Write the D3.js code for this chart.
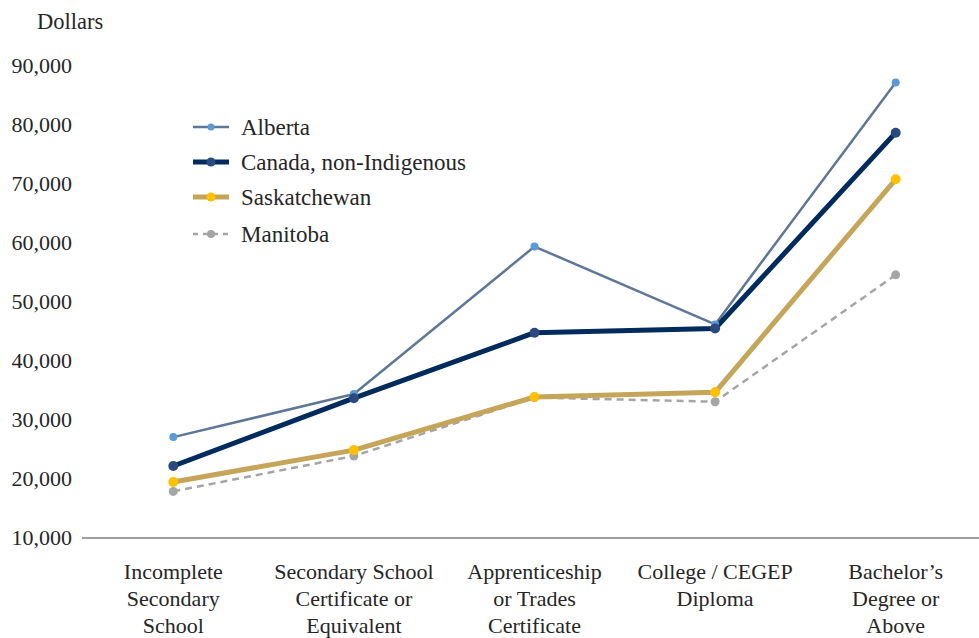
<!DOCTYPE html>
<html><head><meta charset="utf-8">
<script src="https://cdn.jsdelivr.net/npm/d3@7"></script>
<style>body{margin:0;background:#fff;}</style>
</head>
<body><svg id="c" width="979" height="638"></svg>
<script>
const categories = [
  ["Incomplete","Secondary","School"],
  ["Secondary School","Certificate or","Equivalent"],
  ["Apprenticeship","or Trades","Certificate"],
  ["College / CEGEP","Diploma"],
  ["Bachelor\u2019s","Degree or","Above"]
];
const alberta = [27100, 34400, 59400, 46200, 87200];
const canada = [22200, 33700, 44800, 45500, 78700];
const saskatchewan = [19500, 24900, 33900, 34700, 70800];
const manitoba = [17900, 23900, 33800, 33100, 54600];
const yTicks = [10000,20000,30000,40000,50000,60000,70000,80000,90000];
const seriesNames = ["Alberta","Canada, non-Indigenous","Saskatchewan","Manitoba"];

const FONT = '"Liberation Serif"';
const TXT = "#262626";

const series = [
  {name:seriesNames[0], values:alberta, line:"#5f7797", marker:"#5b9bd5", w:2.5, r:4, dash:null},
  {name:seriesNames[1], values:canada, line:"#002b5c", marker:"#2a4a7f", w:5, r:5, dash:null},
  {name:seriesNames[2], values:saskatchewan, line:"#c5a55a", marker:"#ffc000", w:5, r:5, dash:null},
  {name:seriesNames[3], values:manitoba, line:"#a5a5a5", marker:"#a5a5a5", w:2.5, r:4.5, dash:"7,5"}
];

const svg = d3.select("#c");
const x = d3.scaleBand().domain(d3.range(categories.length)).range([83, 986]);
const y = d3.scaleLinear().domain([10000, 90000]).range([538, 66]);

const yAxis = d3.axisLeft(y).tickValues(yTicks).tickSize(0).tickPadding(0)
  .tickFormat(d3.format(","));
const gy = svg.append("g").attr("transform","translate(72,0)").call(yAxis)
  .attr("font-family", null).attr("font-size", null);
gy.select(".domain").remove();
gy.selectAll("text").style("font-size","22px").style("fill",TXT)
  .style("font-family",FONT).attr("dy","0.3em");

svg.append("text").attr("x",37).attr("y",29).style("font-size","22.5px")
  .style("font-family",FONT).style("fill",TXT).text("Dollars");

svg.append("line").attr("x1",82).attr("x2",979).attr("y1",538).attr("y2",538)
  .attr("stroke","#7f7f7f").attr("stroke-width",1.5);

const xl = svg.append("g");
categories.forEach((lines,i)=>{
  const cx = x(i)+x.bandwidth()/2;
  const t = xl.append("text").attr("text-anchor","middle")
    .attr("x", cx).attr("y",579).style("font-size","22px")
    .style("font-family",FONT).style("fill",TXT);
  lines.forEach((l,j)=>t.append("tspan").attr("x",cx).attr("dy", j===0?0:27).text(l));
});

const line = d3.line().x((d,i)=>x(i)+x.bandwidth()/2).y(d=>y(d));
const order = [3,2,0,1];
order.forEach(k=>{
  const s = series[k];
  svg.append("path").datum(s.values).attr("d",line).attr("fill","none")
    .attr("stroke",s.line).attr("stroke-width",s.w).attr("stroke-dasharray",s.dash)
    .attr("stroke-linejoin","round");
});
order.forEach(k=>{
  const s = series[k];
  svg.append("g").selectAll("circle").data(s.values).join("circle")
    .attr("cx",(d,i)=>x(i)+x.bandwidth()/2).attr("cy",d=>y(d)).attr("r",s.r).attr("fill",s.marker);
});

const legY = [127,162,197,234];
series.forEach((s,i)=>{
  const g = svg.append("g").attr("transform",`translate(0,${legY[i]})`);
  g.append("line").attr("x1",193).attr("x2",229).attr("y1",0).attr("y2",0)
    .attr("stroke",s.line).attr("stroke-width",s.w).attr("stroke-dasharray",s.dash?"5,5":null);
  g.append("circle").attr("cx",211).attr("cy",0).attr("r",s.r-0.5).attr("fill",s.marker);
  g.append("text").attr("x",241).attr("y",7.5).style("font-size","23px")
    .style("font-family",FONT).style("fill",TXT).text(s.name);
});
</script></body></html>
